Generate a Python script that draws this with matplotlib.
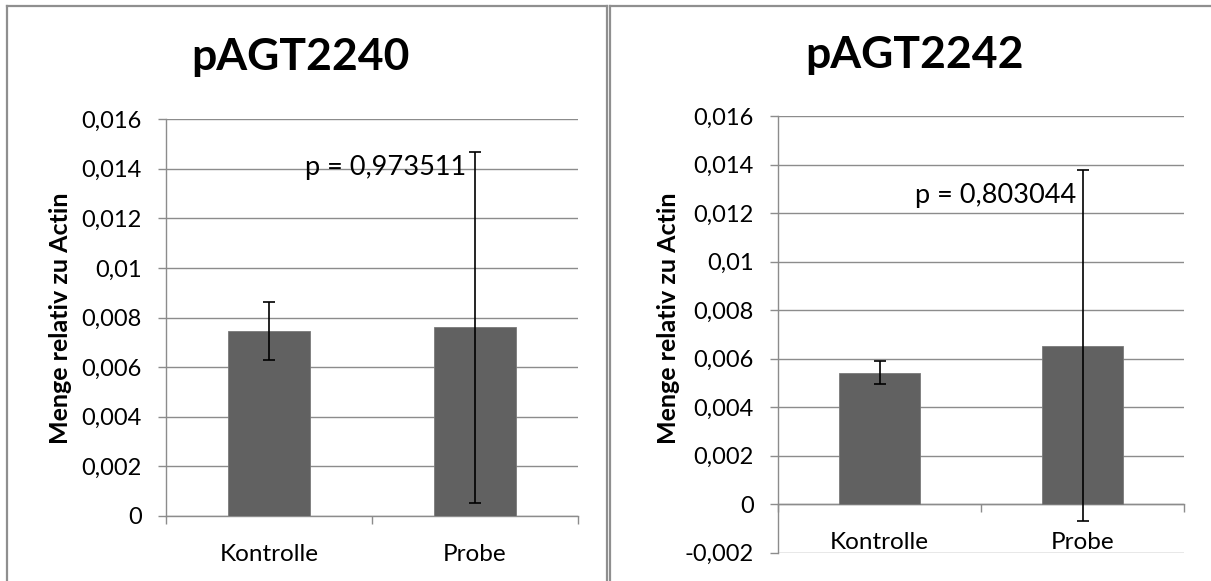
import matplotlib
matplotlib.use('Agg')
import matplotlib.pyplot as plt
from matplotlib.lines import Line2D
from matplotlib.ticker import FuncFormatter, FixedLocator
import numpy as np

# ---- data ----
categories = ['Kontrolle', 'Probe']
titles = ['pAGT2240', 'pAGT2242']
means_2240 = [0.00746, 0.00760]
errors_2240 = [0.00116, 0.00706]
means_2242 = [0.00543, 0.00654]
errors_2242 = [0.00049, 0.00723]
p_labels = ['p = 0,973511', 'p = 0,803044']
ylims = [(0.0, 0.016), (-0.002, 0.016)]
ylabel = 'Menge relativ zu Actin'

plt.rcParams['font.family'] = ['Lato', 'DejaVu Sans']

W, H = 1211, 581
fig = plt.figure(figsize=(W / 100, H / 100), dpi=100)

def fx(px):
    return px / W

def fy(py):
    return 1 - py / H

GRID = '#8c8c8c'
BAR = '#616161'

def fmt(v, pos):
    s = f"{v:.3f}".rstrip('0').rstrip('.')
    if s == '-0':
        s = '0'
    return s.replace('.', ',')

# panel borders
border_kw = dict(color='#8f8f8f', lw=1.6, transform=fig.transFigure)
fig.add_artist(Line2D([fx(7), fx(7)], [fy(6), fy(H + 5)], **border_kw))
fig.add_artist(Line2D([fx(7), fx(607)], [fy(6), fy(6)], **border_kw))
fig.add_artist(Line2D([fx(607), fx(607)], [fy(6), fy(H + 5)], **border_kw))
fig.add_artist(Line2D([fx(610), fx(610)], [fy(6), fy(H + 5)], **border_kw))
fig.add_artist(Line2D([fx(610), fx(W + 5)], [fy(6), fy(6)], **border_kw))

panels = [
    dict(pos=(166, 119, 577.7, 516), means=means_2240, errs=errors_2240,
         title_xy=(300, 57), ylab_xy=(60, 318), p_xy=(305, 167)),
    dict(pos=(778.3, 116.3, 1184, 552.7), means=means_2242, errs=errors_2242,
         title_xy=(914, 55), ylab_xy=(668, 318), p_xy=(915, 195)),
]

for i, pnl in enumerate(panels):
    x0, y0, x1, y1 = pnl['pos']
    ax = fig.add_axes([fx(x0), fy(y1), fx(x1) - fx(x0), (y1 - y0) / H])
    ymin, ymax = ylims[i]
    ax.set_ylim(ymin, ymax)
    ax.set_xlim(-0.5, 1.5)
    xs = np.arange(len(categories))
    ax.bar(xs, pnl['means'], width=0.4, color=BAR, edgecolor='#7a7a7a',
           linewidth=0.6, zorder=3)
    ax.errorbar(xs, pnl['means'], yerr=pnl['errs'], fmt='none', ecolor='black',
                elinewidth=1.2, capsize=4.5, capthick=1.2, zorder=4)

    yt = np.round(np.arange(ymin, ymax + 1e-9, 0.002), 3)
    ax.yaxis.set_major_locator(FixedLocator(yt))
    ax.yaxis.set_major_formatter(FuncFormatter(fmt))
    ax.grid(axis='y', color=GRID, lw=1.0, zorder=0)
    ax.set_axisbelow(True)

    ax.set_xticks(xs)
    ax.set_xticklabels(categories)
    ax.set_xticks([-0.5, 0.5, 1.5], minor=True)
    ax.tick_params(axis='x', which='major', length=0, pad=20, labelsize=17.5)
    ax.tick_params(axis='x', which='minor', length=5.5, width=1.0, color=GRID,
                   direction='out')
    ax.tick_params(axis='y', length=5.5, width=1.0, color=GRID, direction='out',
                   pad=12, labelsize=17)

    for s in ['top', 'right']:
        ax.spines[s].set_visible(False)
    ax.spines['left'].set_color(GRID)
    ax.spines['left'].set_linewidth(1.0)
    ax.spines['bottom'].set_color(GRID)
    ax.spines['bottom'].set_linewidth(1.0)
    if ymin < 0:
        ax.spines['bottom'].set_position(('data', 0))

    tx, ty = pnl['title_xy']
    fig.text(fx(tx), fy(ty), titles[i], fontsize=32, fontweight='bold',
             ha='center', va='center')
    lx, ly = pnl['ylab_xy']
    fig.text(fx(lx), fy(ly), ylabel, fontsize=18, fontweight='bold',
             rotation=90, ha='center', va='center')
    px, py = pnl['p_xy']
    fig.text(fx(px), fy(py), p_labels[i], fontsize=19.5, ha='left', va='center')

fig.savefig('out.png', dpi=100)
